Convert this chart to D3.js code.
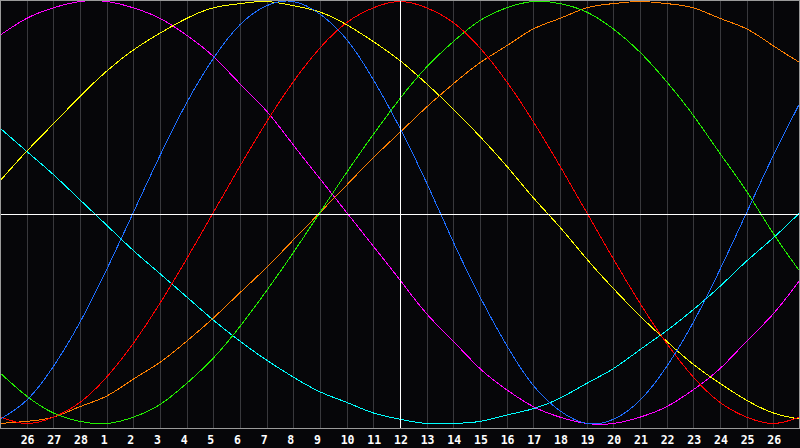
<!DOCTYPE html>
<html>
<head>
<meta charset="utf-8">
<script src="https://cdn.jsdelivr.net/npm/d3@7"></script>
<style>
  html, body { margin: 0; padding: 0; background: #060609; }
  svg { display: block; }
</style>
</head>
<body>
<svg id="chart"></svg>
<script>
//data: one value per day, Feb 25 .. Mar 27
const dayLabels = ["25","26","27","28","1","2","3","4","5","6","7","8","9","10","11","12",
  "13","14","15","16","17","18","19","20","21","22","23","24","25","26","27"];

const cyanVals = [0.40,0.29,0.18,0.06,-0.06,-0.18,-0.29,-0.40,-0.51,-0.61,-0.70,-0.78,-0.85,-0.90,-0.95,-0.98,
  -1.00,-1.00,-0.99,-0.96,-0.93,-0.88,-0.81,-0.74,-0.65,-0.56,-0.46,-0.35,-0.23,-0.12,0.00];
const magentaVals = [0.84,0.92,0.97,1.00,1.00,0.97,0.92,0.84,0.74,0.61,0.48,0.32,0.16,0.00,-0.16,-0.32,
  -0.48,-0.61,-0.74,-0.84,-0.92,-0.97,-1.00,-1.00,-0.97,-0.92,-0.84,-0.74,-0.61,-0.48,-0.32];
const yellowVals = [0.15,0.29,0.42,0.55,0.67,0.77,0.85,0.92,0.97,0.99,1.00,0.98,0.95,0.89,0.81,0.72,
  0.61,0.49,0.36,0.22,0.07,-0.07,-0.22,-0.36,-0.49,-0.61,-0.72,-0.81,-0.89,-0.95,-0.98];
const orangeVals = [-1.00,-0.99,-0.97,-0.92,-0.87,-0.79,-0.71,-0.61,-0.50,-0.38,-0.26,-0.13,0.00,0.13,0.26,0.38,
  0.50,0.61,0.71,0.79,0.87,0.92,0.97,0.99,1.00,0.99,0.97,0.92,0.87,0.79,0.71];
const greenVals = [-0.76,-0.87,-0.95,-0.99,-1.00,-0.97,-0.91,-0.81,-0.69,-0.54,-0.37,-0.19,0.00,0.19,0.37,0.54,
  0.69,0.81,0.91,0.97,1.00,0.99,0.95,0.87,0.76,0.62,0.46,0.28,0.10,-0.10,-0.28];
const redVals = [-0.97,-1.00,-0.97,-0.90,-0.78,-0.62,-0.43,-0.22,0.00,0.22,0.43,0.62,0.78,0.90,0.97,1.00,
  0.97,0.90,0.78,0.62,0.43,0.22,0.00,-0.22,-0.43,-0.62,-0.78,-0.90,-0.97,-1.00,-0.97];
const blueVals = [-0.98,-0.89,-0.73,-0.52,-0.27,0.00,0.27,0.52,0.73,0.89,0.98,1.00,0.94,0.82,0.63,0.40,
  0.14,-0.14,-0.40,-0.63,-0.82,-0.94,-1.00,-0.98,-0.89,-0.73,-0.52,-0.27,0.00,0.27,0.52];

const seriesNames = ["cyan","magenta","yellow","orange","green","red","blue"];
const seriesColors = ["#00ffff","#ff00ff","#ffff00","#ff8000","#22ee00","#ff0000","#1e6eff"];
const seriesVals = [cyanVals, magentaVals, yellowVals, orangeVals, greenVals, redVals, blueVals];

//constants
const width = 800;
const height = 448;
const plotH = 428;
const todayIdx = 15;

//scales
const xScale = d3.scaleLinear()
    .domain([0, 30])
    .range([0, width]);

const yScale = d3.scaleLinear()
    .domain([-1, 1])
    .range([423.5, 1.5]);

//canvas
const svg = d3.select("#chart")
    .attr("width", width)
    .attr("height", height)
    .style("background-color", "#060609");

//grid + day labels
const xAxis = d3.axisBottom(xScale)
    .tickValues(d3.range(1, 30))
    .tickSize(-plotH)
    .tickFormat(i => dayLabels[i]);

const gX = svg.append("g")
    .attr("transform", "translate(0," + plotH + ")")
    .call(xAxis);

gX.select(".domain").remove();
gX.selectAll(".tick line")
    .attr("stroke", "#38383c")
    .attr("shape-rendering", "crispEdges");
gX.selectAll(".tick text")
    .attr("y", 15.5)
    .attr("dy", 0)
    .attr("x", -6.5)
    .style("text-anchor", "start")
    .style("font-family", "'DejaVu Sans Mono', monospace")
    .style("font-weight", "bold")
    .style("font-size", "11.5px")
    .attr("fill", "#ffffff");

//curves
const line = d3.line()
    .x((d, i) => xScale(i))
    .y(d => yScale(d))
    .curve(d3.curveNatural);

svg.append("g")
    .attr("class", "curves")
    .selectAll("path")
    .data(seriesVals)
    .enter()
    .append("path")
    .attr("class", (d, i) => seriesNames[i])
    .attr("d", line)
    .attr("fill", "none")
    .attr("stroke", (d, i) => seriesColors[i])
    .attr("stroke-width", 1)
    .attr("shape-rendering", "crispEdges");

//today + zero lines
svg.append("line")
    .attr("x1", Math.round(xScale(todayIdx)) + 0.5)
    .attr("x2", Math.round(xScale(todayIdx)) + 0.5)
    .attr("y1", 0)
    .attr("y2", plotH)
    .attr("stroke", "#ffffff")
    .attr("shape-rendering", "crispEdges");

svg.append("line")
    .attr("x1", 0)
    .attr("x2", width)
    .attr("y1", plotH / 2 + 0.5)
    .attr("y2", plotH / 2 + 0.5)
    .attr("stroke", "#ffffff")
    .attr("shape-rendering", "crispEdges");

//frame
svg.append("rect")
    .attr("x", 0.5)
    .attr("y", 0.5)
    .attr("width", width - 1)
    .attr("height", plotH)
    .attr("fill", "none")
    .attr("stroke", "#9a9a9a")
    .attr("shape-rendering", "crispEdges");
</script>
</body>
</html>
